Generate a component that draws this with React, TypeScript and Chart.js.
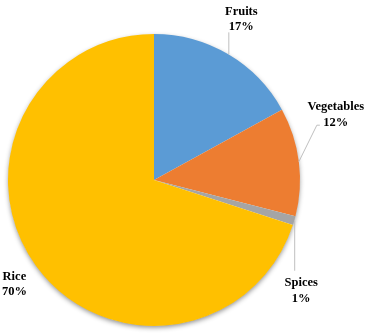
import React, { useEffect, useRef } from "react";
import { Chart, registerables } from "chart.js";

Chart.register(...registerables);

const categories = ["Fruits", "Vegetables", "Spices", "Rice"];
const shares = [17, 12, 1, 70];
const pctLabels = ["17%", "12%", "1%", "70%"];
const colors = ["#5B9BD5", "#ED7D31", "#A5A5A5", "#FFC000"];

const FONT = "bold 12.5px 'Liberation Serif', 'Times New Roman', serif";

const shadowPlugin = {
  id: "pieShadow",
  beforeDatasetsDraw(chart: any) {
    const arc = chart.getDatasetMeta(0).data[0];
    if (!arc) return;
    const { x, y, outerRadius } = arc.getProps(["x", "y", "outerRadius"], true);
    const ctx = chart.ctx;
    ctx.save();
    ctx.shadowColor = "rgba(0,0,0,0.45)";
    ctx.shadowBlur = 5;
    ctx.shadowOffsetX = 0;
    ctx.shadowOffsetY = 2;
    ctx.fillStyle = "#ffffff";
    ctx.beginPath();
    ctx.arc(x, y, outerRadius - 0.5, 0, Math.PI * 2);
    ctx.fill();
    ctx.restore();
  },
};

const labelPlugin = {
  id: "pieLabels",
  afterDatasetsDraw(chart: any) {
    const meta = chart.getDatasetMeta(0);
    const ctx = chart.ctx;
    ctx.save();
    ctx.font = FONT;
    ctx.fillStyle = "#000000";
    ctx.textAlign = "center";
    ctx.textBaseline = "alphabetic";
    ctx.strokeStyle = "#BFBFBF";
    ctx.lineWidth = 1;
    meta.data.forEach((el: any, i: number) => {
      const { x, y, startAngle, endAngle, outerRadius } = el.getProps(
        ["x", "y", "startAngle", "endAngle", "outerRadius"],
        true
      );
      const mid = (startAngle + endAngle) / 2;
      const ax = x + Math.cos(mid) * outerRadius;
      const ay = y + Math.sin(mid) * outerRadius;
      let tx = ax;
      let b1 = ay;
      let b2 = ay;
      ctx.beginPath();
      if (i === 0) {
        ctx.moveTo(ax + 0.5, ay);
        ctx.lineTo(ax + 0.5, ay - 22);
        ctx.stroke();
        tx = ax + 13;
        b1 = ay - 39.5;
        b2 = ay - 24;
      } else if (i === 1) {
        ctx.moveTo(ax, ay);
        ctx.lineTo(ax + 18, ay - 36.5);
        ctx.lineTo(ax + 21, ay - 36.5);
        ctx.stroke();
        tx = ax + 37;
        b1 = ay - 52;
        b2 = ay - 36;
      } else if (i === 2) {
        ctx.moveTo(ax + 0.5, ay);
        ctx.lineTo(ax + 0.5, ay + 50);
        ctx.stroke();
        tx = ax + 7;
        b1 = ay + 65;
        b2 = ay + 81;
      } else {
        tx = ax - 21.5;
        b1 = ay + 14;
        b2 = ay + 29;
      }
      ctx.fillText(categories[i], tx, b1);
      ctx.fillText(pctLabels[i], tx, b2);
    });
    ctx.restore();
  },
};

export default function App() {
  const canvasRef = useRef<HTMLCanvasElement | null>(null);

  useEffect(() => {
    document.body.style.margin = "0";
    const canvas = canvasRef.current;
    if (!canvas) return;
    const chart = new Chart(canvas, {
      type: "pie",
      data: {
        labels: categories,
        datasets: [
          {
            data: shares,
            backgroundColor: colors,
            borderWidth: 0,
          },
        ],
      },
      options: {
        responsive: false,
        maintainAspectRatio: false,
        animation: false,
        devicePixelRatio: 1,
        layout: { padding: { left: 8, right: 70, top: 34, bottom: 8 } },
        plugins: {
          legend: { display: false },
          tooltip: { enabled: false },
        },
      },
      plugins: [shadowPlugin, labelPlugin],
    });
    return () => chart.destroy();
  }, []);

  return (
    <div style={{ position: "absolute", left: 0, top: 0, width: 370, height: 334, background: "#ffffff" }}>
      <canvas ref={canvasRef} width={370} height={334} style={{ width: 370, height: 334 }} />
    </div>
  );
}
